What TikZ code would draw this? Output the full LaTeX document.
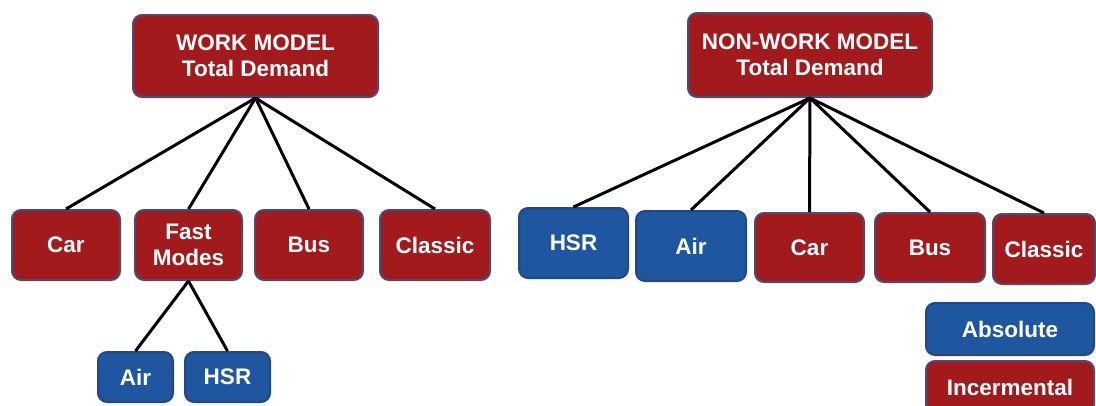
\documentclass[tikz,border=0pt]{standalone}
\usepackage{fontspec}
\setmainfont{Liberation Sans}
\definecolor{redfill}{RGB}{163,26,28}
\definecolor{redline}{RGB}{72,76,122}
\definecolor{bluefill}{RGB}{30,86,160}
\definecolor{blueline}{RGB}{38,72,130}
\begin{document}
\begin{tikzpicture}[x=1pt,y=-1pt,
  box/.style={rounded corners=9pt, line width=2pt, inner sep=0pt, align=center,
    text=white, font=\bfseries\fontsize{22.5}{25.5}\selectfont},
  incbox/.style={box, fill=redfill, draw=redline},
  absbox/.style={box, fill=bluefill, draw=blueline},
  link/.style={line width=3pt, black}]
\useasboundingbox (0,0) rectangle (1096,405);
\clip (0,0) rectangle (1096,405);

% work model tree
\node[incbox, minimum width=245pt, minimum height=82pt] (work) at (255.5,56) {WORK MODEL\\Total Demand};
\node[incbox, minimum width=108pt, minimum height=70pt] (wcar) at (66,245) {Car};
\node[incbox, minimum width=107pt, minimum height=70pt] (wfast) at (188.5,245) {Fast\\Modes};
\node[incbox, minimum width=108pt, minimum height=70pt] (wbus) at (309,245) {Bus};
\node[incbox, minimum width=110pt, minimum height=70pt] (wclassic) at (435,245) {Classic};
\node[absbox, minimum width=75pt, minimum height=50pt] (wair) at (135.5,377) {Air};
\node[absbox, minimum width=85pt, minimum height=50pt] (whsr) at (227.5,377) {HSR};

\foreach \c in {wcar,wfast,wbus,wclassic}
  \draw[link] (work.south) -- (\c.north);
\draw[link] (wfast.south) -- (wair.north);
\draw[link] (wfast.south) -- (whsr.north);

% non-work model tree
\node[incbox, minimum width=244pt, minimum height=84pt] (nonwork) at (810,55) {NON-WORK MODEL\\Total Demand};
\node[absbox, minimum width=109pt, minimum height=70pt] (nhsr) at (573.5,243) {HSR};
\node[absbox, minimum width=110pt, minimum height=70pt] (nair) at (691,246) {Air};
\node[incbox, minimum width=109pt, minimum height=69pt] (ncar) at (809.5,247.5) {Car};
\node[incbox, minimum width=110pt, minimum height=69pt] (nbus) at (930,247.5) {Bus};
\node[incbox, minimum width=102pt, minimum height=70pt] (nclassic) at (1044,249) {Classic};

\foreach \c in {nhsr,nair,ncar,nbus,nclassic}
  \draw[link] (nonwork.south) -- (\c.north);

% legend
\node[absbox, minimum width=168pt, minimum height=52pt] (abs) at (1010,329) {Absolute};
\node[incbox, minimum width=168pt, minimum height=52pt] (inc) at (1010,387) {Incermental};
\end{tikzpicture}
\end{document}
